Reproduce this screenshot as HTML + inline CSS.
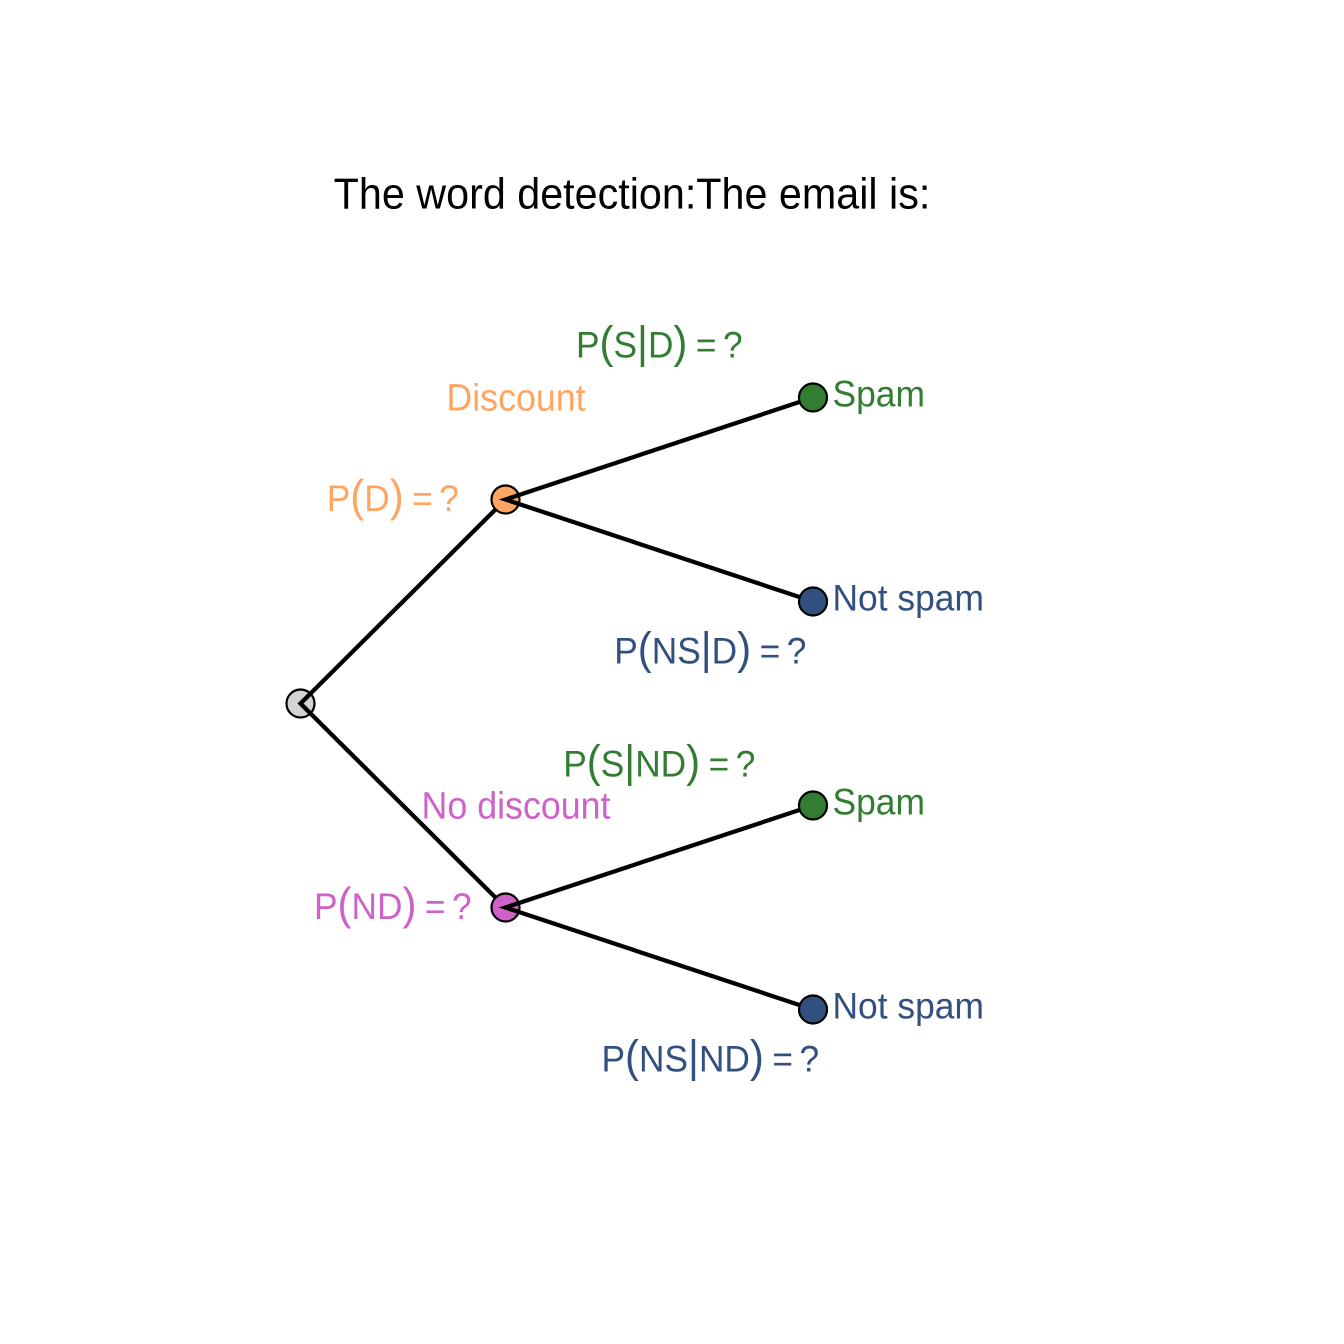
<!DOCTYPE html>
<html>
<head>
<meta charset="utf-8">
<title>Probability tree</title>
<style>
html,body{margin:0;padding:0;background:#fff;}
svg{display:block;}
text{font-family:"Liberation Sans",sans-serif;}
</style>
</head>
<body>
<svg id="chart" xmlns="http://www.w3.org/2000/svg" width="1344" height="1344" viewBox="0 0 1344 1344">
<rect x="0" y="0" width="1344" height="1344" fill="#ffffff"/>
<text transform="translate(632 208.3) scale(1 1.055)" font-size="41.3" text-anchor="middle" fill="#000000">The word detection:The email is:</text>
</svg>
<script>
// Tree data: depth and vertical position in tree units
const rootNode = { depth: 0, pos: 0 };
const branchNames = ['Discount', 'No discount'];
const branchPos = [2, -2];
const branchProb = ['D', 'ND'];
const branchColors = ['#FFA562', '#CF62C8'];
const branchDepth = 2;
const leafDepth = 5;
const leafNames = ['Spam', 'Not spam', 'Spam', 'Not spam'];
const leafPos = [3, 1, -1, -3];
const leafParent = [0, 0, 1, 1];
const leafProb = ['S', 'NS', 'S', 'NS'];
const leafColors = ['#327D32', '#32507F', '#327D32', '#32507F'];

const NS = 'http://www.w3.org/2000/svg';
const svg = document.getElementById('chart');
const x = d => 300.5 + d * 102.5;
const y = p => 703.5 - p * 102;
const yStretch = 1.055;

function make(tag, attrs, parent) {
  const el = document.createElementNS(NS, tag);
  for (const k in attrs) el.setAttribute(k, attrs[k]);
  (parent || svg).appendChild(el);
  return el;
}
function node(d, p, fill, name) {
  const c = make('circle', { cx: x(d), cy: y(p), r: 14, fill: fill, stroke: '#000', 'stroke-width': 2.2 });
  
  
}
function edge(points, name) {
  const l = make('polyline', { points: points.map(q => x(q[0]) + ',' + y(q[1])).join(' '), fill: 'none', stroke: '#000', 'stroke-width': 4.3, 'stroke-linejoin': 'miter', 'stroke-miterlimit': 10 });
  
  
}
function plainLabel(cx, by, str, color, anchor, size, name) {
  const t = make('text', { transform: 'translate(' + cx + ' ' + by + ') scale(1 ' + yStretch + ')', 'font-size': size, fill: color, 'text-anchor': anchor });
  t.textContent = str;
  
  
}
function mathLabel(cx, by, inner, color, name) {
  const t = make('text', { transform: 'translate(' + cx + ' ' + by + ') scale(1 ' + yStretch + ')', 'font-size': 35.3, fill: color, 'text-anchor': 'middle' });
  
  
  const parts = ['P', '(', ...inner, ')', '=', '?'];
  parts.forEach(s => {
    const big = s === '(' || s === ')' || s === '|';
    const attrs = big ? { 'font-size': 42 } : {};
    if (s === '=') attrs.dx = 8.5;
    if (s === '?') attrs.dx = 6.5;
    const sp = make('tspan', attrs, t);
    sp.textContent = s;
  });
}

// Root node, drawn beneath its outgoing edges
node(rootNode.depth, rootNode.pos, '#D3D3D3', 'root-node');
edge([[branchDepth, branchPos[0]], [rootNode.depth, rootNode.pos], [branchDepth, branchPos[1]]], 'root-edges');

// Branch nodes with their outgoing edges
branchPos.forEach((bp, i) => {
  node(branchDepth, bp, branchColors[i], 'branch-node-' + i);
  const kids = leafPos.filter((_, k) => leafParent[k] === i);
  edge([[leafDepth, kids[0]], [branchDepth, bp], [leafDepth, kids[1]]], 'branch-edges-' + i);
  plainLabel(x(branchDepth) + 10.5, y(bp) - 89.2, branchNames[i], branchColors[i], 'middle', 35.8, 'branch-label-' + i);
  mathLabel(x(branchDepth) - 112.7, y(bp) + 11.5, [branchProb[i]], branchColors[i], 'branch-probability-' + i);
});

// Leaf nodes
leafPos.forEach((lp, i) => {
  node(leafDepth, lp, leafColors[i], 'leaf-node-' + i);
  plainLabel(x(leafDepth) + 19.5, y(lp) + 9, leafNames[i], leafColors[i], 'start', 35.4, 'leaf-label-' + i);
  const up = leafProb[i] === 'S';
  const cx = x(leafDepth) + (up ? -153.7 : -102.7);
  const by = y(lp) + (up ? (leafParent[i] === 0 ? -40 : -29) : 62);
  mathLabel(cx, by, [leafProb[i], '|', branchProb[leafParent[i]]], leafColors[i], 'conditional-probability-' + i);
});
</script>
</body>
</html>
